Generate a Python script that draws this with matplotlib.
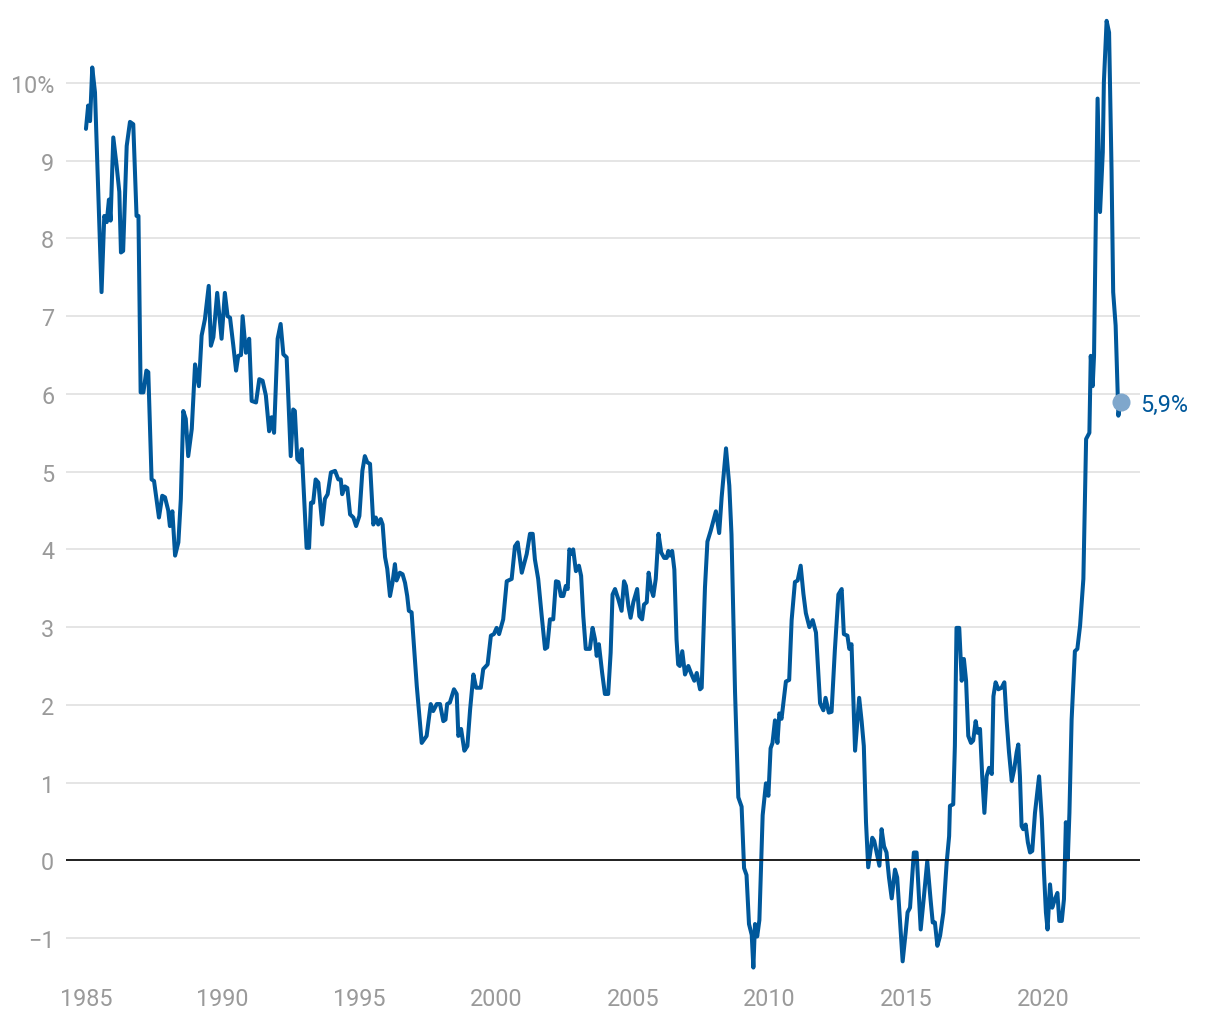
import matplotlib
matplotlib.use("Agg")
import matplotlib.pyplot as plt

plt.rcParams['font.family'] = ['Roboto', 'DejaVu Sans']

# Decimal year of each observation
years = [
    1985.00, 1985.08, 1985.15, 1985.23, 1985.33, 1985.57, 1985.67, 1985.76, 1985.84, 1985.90,
    1986.00, 1986.12, 1986.22, 1986.28, 1986.36, 1986.49, 1986.61, 1986.73, 1986.85, 1986.92,
    1987.00, 1987.10, 1987.21, 1987.28, 1987.40, 1987.49, 1987.67, 1987.79, 1987.89, 1988.01,
    1988.07, 1988.16, 1988.26, 1988.38, 1988.47, 1988.56, 1988.65, 1988.74, 1988.87, 1988.99,
    1989.13, 1989.23, 1989.35, 1989.49, 1989.57, 1989.66, 1989.80, 1989.96, 1990.08, 1990.18,
    1990.27, 1990.39, 1990.49, 1990.57, 1990.67, 1990.73, 1990.85, 1990.97, 1991.06, 1991.22,
    1991.34, 1991.46, 1991.58, 1991.70, 1991.79, 1991.88, 1992.01, 1992.12, 1992.22, 1992.34,
    1992.49, 1992.58, 1992.64, 1992.73, 1992.83, 1992.89, 1993.07, 1993.16, 1993.23, 1993.31,
    1993.40, 1993.50, 1993.64, 1993.74, 1993.84, 1993.96, 1994.11, 1994.23, 1994.32, 1994.37,
    1994.47, 1994.56, 1994.66, 1994.78, 1994.88, 1995.00, 1995.11, 1995.20, 1995.29, 1995.39,
    1995.51, 1995.60, 1995.69, 1995.78, 1995.85, 1995.94, 1996.02, 1996.12, 1996.21, 1996.30,
    1996.36, 1996.48, 1996.58, 1996.67, 1996.75, 1996.81, 1996.91, 1997.10, 1997.28, 1997.46,
    1997.61, 1997.70, 1997.83, 1997.95, 1998.07, 1998.15, 1998.21, 1998.31, 1998.46, 1998.56,
    1998.62, 1998.72, 1998.84, 1998.95, 1999.05, 1999.17, 1999.27, 1999.44, 1999.53, 1999.69,
    1999.81, 1999.92, 2000.02, 2000.11, 2000.26, 2000.39, 2000.57, 2000.69, 2000.79, 2000.94,
    2001.12, 2001.24, 2001.34, 2001.42, 2001.54, 2001.67, 2001.79, 2001.87, 2001.97, 2002.09,
    2002.19, 2002.28, 2002.37, 2002.46, 2002.55, 2002.62, 2002.68, 2002.76, 2002.82, 2002.92,
    2003.03, 2003.11, 2003.19, 2003.28, 2003.43, 2003.53, 2003.62, 2003.68, 2003.76, 2003.88,
    2003.98, 2004.10, 2004.19, 2004.26, 2004.35, 2004.47, 2004.59, 2004.68, 2004.75, 2004.84,
    2004.92, 2005.02, 2005.16, 2005.24, 2005.34, 2005.41, 2005.51, 2005.58, 2005.67, 2005.75,
    2005.84, 2005.94, 2006.04, 2006.15, 2006.24, 2006.30, 2006.36, 2006.44, 2006.52, 2006.60,
    2006.66, 2006.72, 2006.81, 2006.91, 2007.03, 2007.15, 2007.25, 2007.34, 2007.46, 2007.52,
    2007.64, 2007.73, 2007.85, 2008.04, 2008.16, 2008.25, 2008.41, 2008.53, 2008.61, 2008.74,
    2008.86, 2008.98, 2009.07, 2009.16, 2009.25, 2009.35, 2009.41, 2009.47, 2009.55, 2009.63,
    2009.75, 2009.87, 2009.96, 2010.04, 2010.11, 2010.20, 2010.29, 2010.36, 2010.44, 2010.60,
    2010.72, 2010.81, 2010.93, 2011.03, 2011.14, 2011.24, 2011.33, 2011.46, 2011.58, 2011.70,
    2011.85, 2011.97, 2012.05, 2012.17, 2012.27, 2012.39, 2012.52, 2012.64, 2012.72, 2012.85,
    2012.92, 2013.00, 2013.13, 2013.28, 2013.37, 2013.45, 2013.53, 2013.61, 2013.76, 2013.83,
    2013.92, 2014.02, 2014.10, 2014.19, 2014.28, 2014.37, 2014.47, 2014.59, 2014.67, 2014.77,
    2014.87, 2014.98, 2015.05, 2015.14, 2015.28, 2015.38, 2015.53, 2015.65, 2015.77, 2015.89,
    2015.97, 2016.05, 2016.14, 2016.24, 2016.36, 2016.48, 2016.57, 2016.60, 2016.72, 2016.78,
    2016.84, 2016.94, 2017.03, 2017.11, 2017.19, 2017.27, 2017.37, 2017.45, 2017.54, 2017.61,
    2017.70, 2017.78, 2017.86, 2017.94, 2018.03, 2018.13, 2018.19, 2018.27, 2018.37, 2018.49,
    2018.59, 2018.67, 2018.76, 2018.86, 2018.95, 2019.04, 2019.10, 2019.16, 2019.22, 2019.28,
    2019.37, 2019.45, 2019.53, 2019.61, 2019.71, 2019.86, 2019.96, 2020.04, 2020.11, 2020.17,
    2020.26, 2020.34, 2020.44, 2020.53, 2020.60, 2020.69, 2020.77, 2020.84, 2020.91, 2020.97,
    2021.05, 2021.17, 2021.26, 2021.36, 2021.48, 2021.58, 2021.70, 2021.75, 2021.82, 2021.87,
    2021.94, 2022.00, 2022.09, 2022.19, 2022.23, 2022.33, 2022.42, 2022.51, 2022.57, 2022.66,
    2022.76, 2022.84,
]

# Annual rate, percent
values = [
    9.41, 9.71, 9.51, 10.20, 9.88, 7.31, 8.29, 8.21, 8.50, 8.23,
    9.30, 8.94, 8.60, 7.82, 7.84, 9.19, 9.50, 9.47, 8.29, 8.29,
    6.02, 6.02, 6.30, 6.28, 4.90, 4.88, 4.41, 4.69, 4.67, 4.50,
    4.30, 4.49, 3.92, 4.09, 4.65, 5.78, 5.68, 5.20, 5.55, 6.38,
    6.10, 6.75, 6.96, 7.39, 6.62, 6.73, 7.30, 6.71, 7.30, 7.00,
    6.98, 6.62, 6.30, 6.49, 6.50, 7.00, 6.53, 6.71, 5.91, 5.89,
    6.19, 6.17, 5.98, 5.52, 5.70, 5.50, 6.71, 6.90, 6.51, 6.47,
    5.20, 5.80, 5.78, 5.16, 5.12, 5.29, 4.02, 4.02, 4.60, 4.60,
    4.90, 4.86, 4.32, 4.65, 4.71, 4.99, 5.01, 4.90, 4.90, 4.71,
    4.81, 4.79, 4.45, 4.41, 4.30, 4.43, 5.01, 5.20, 5.12, 5.10,
    4.32, 4.41, 4.32, 4.39, 4.32, 3.90, 3.75, 3.40, 3.57, 3.81,
    3.60, 3.70, 3.68, 3.57, 3.40, 3.21, 3.19, 2.24, 1.51, 1.60,
    2.01, 1.92, 2.01, 2.01, 1.79, 1.81, 2.01, 2.03, 2.20, 2.14,
    1.60, 1.69, 1.41, 1.47, 1.94, 2.39, 2.22, 2.22, 2.46, 2.52,
    2.89, 2.91, 2.99, 2.91, 3.10, 3.59, 3.62, 4.04, 4.09, 3.70,
    3.94, 4.20, 4.20, 3.87, 3.62, 3.14, 2.72, 2.74, 3.10, 3.10,
    3.59, 3.58, 3.40, 3.40, 3.53, 3.49, 4.00, 3.94, 4.00, 3.72,
    3.79, 3.66, 3.14, 2.72, 2.72, 2.99, 2.84, 2.63, 2.78, 2.41,
    2.14, 2.14, 2.67, 3.42, 3.49, 3.36, 3.21, 3.59, 3.53, 3.27,
    3.12, 3.32, 3.49, 3.14, 3.10, 3.29, 3.32, 3.70, 3.49, 3.40,
    3.62, 4.20, 3.96, 3.89, 3.89, 3.98, 3.92, 3.98, 3.74, 2.84,
    2.52, 2.50, 2.69, 2.39, 2.50, 2.39, 2.31, 2.41, 2.20, 2.22,
    3.51, 4.10, 4.24, 4.49, 4.21, 4.67, 5.30, 4.82, 4.19, 2.16,
    0.81, 0.69, -0.10, -0.19, -0.82, -0.96, -1.38, -0.82, -0.98, -0.77,
    0.58, 0.99, 0.83, 1.44, 1.51, 1.80, 1.51, 1.89, 1.82, 2.30,
    2.32, 3.09, 3.58, 3.60, 3.79, 3.43, 3.18, 3.00, 3.09, 2.93,
    2.02, 1.93, 2.09, 1.90, 1.91, 2.70, 3.42, 3.49, 2.91, 2.89,
    2.72, 2.78, 1.41, 2.09, 1.79, 1.47, 0.49, -0.09, 0.29, 0.25,
    0.10, -0.07, 0.40, 0.18, 0.10, -0.22, -0.49, -0.12, -0.22, -0.76,
    -1.30, -0.93, -0.67, -0.61, 0.10, 0.10, -0.89, -0.46, -0.01, -0.50,
    -0.80, -0.80, -1.10, -0.97, -0.67, -0.03, 0.31, 0.70, 0.72, 1.47,
    2.99, 2.99, 2.31, 2.59, 2.31, 1.60, 1.51, 1.54, 1.79, 1.64,
    1.69, 1.08, 0.61, 1.08, 1.19, 1.11, 2.11, 2.29, 2.20, 2.22,
    2.29, 1.81, 1.39, 1.02, 1.17, 1.39, 1.49, 1.08, 0.44, 0.40,
    0.46, 0.23, 0.10, 0.12, 0.61, 1.08, 0.53, -0.16, -0.67, -0.89,
    -0.31, -0.61, -0.50, -0.42, -0.78, -0.78, -0.50, 0.49, 0.01, 0.61,
    1.81, 2.69, 2.72, 3.02, 3.62, 5.42, 5.50, 6.49, 6.10, 6.49,
    8.38, 9.80, 8.34, 9.11, 10.01, 10.80, 10.65, 8.89, 7.31, 6.88,
    5.72, 5.90,
]

y_ticks = [-1, 0, 1, 2, 3, 4, 5, 6, 7, 8, 9, 10]
y_tick_labels = ['\u22121', '0', '1', '2', '3', '4', '5', '6', '7', '8', '9', '10%']
x_ticks = [1985, 1990, 1995, 2000, 2005, 2010, 2015, 2020]
last_label = '5,9%'

LINE = '#00589b'
GRID = '#e3e3e3'
TICK = '#9a9a9a'

fig = plt.figure(figsize=(12.2, 10.2), dpi=100)
ax = fig.add_axes([0.0541, 0.0451, 0.8803, 0.9373])

ax.plot(years, values, color=LINE, lw=2.9, solid_joinstyle='round',
        solid_capstyle='round', zorder=3)
ax.axhline(0, color='#111111', lw=1.3, zorder=4)

ax.plot([years[-1]], [values[-1]], 'o', ms=13, color='#7fa7cc',
        markeredgewidth=0, zorder=5)
ax.annotate(last_label, (years[-1], values[-1]), xytext=(14, -2),
            textcoords='offset points', va='center', ha='left',
            fontsize=16.8, color=LINE, zorder=6)

ax.set_xlim(1984.27, 2023.55)
ax.set_ylim(-1.45, 10.85)
ax.set_yticks(y_ticks)
ax.set_yticklabels(y_tick_labels)
ax.set_xticks(x_ticks)
ax.set_xticklabels([str(t) for t in x_ticks])
ax.yaxis.grid(True, color=GRID, lw=1.3, zorder=0)
ax.xaxis.grid(False)
ax.set_axisbelow(True)
ax.tick_params(axis='both', length=0, labelsize=16.8, labelcolor=TICK)
ax.tick_params(axis='y', pad=8.5)
ax.tick_params(axis='x', pad=10)
for s in ax.spines.values():
    s.set_visible(False)

fig.savefig('out.png', dpi=100, facecolor='white')
